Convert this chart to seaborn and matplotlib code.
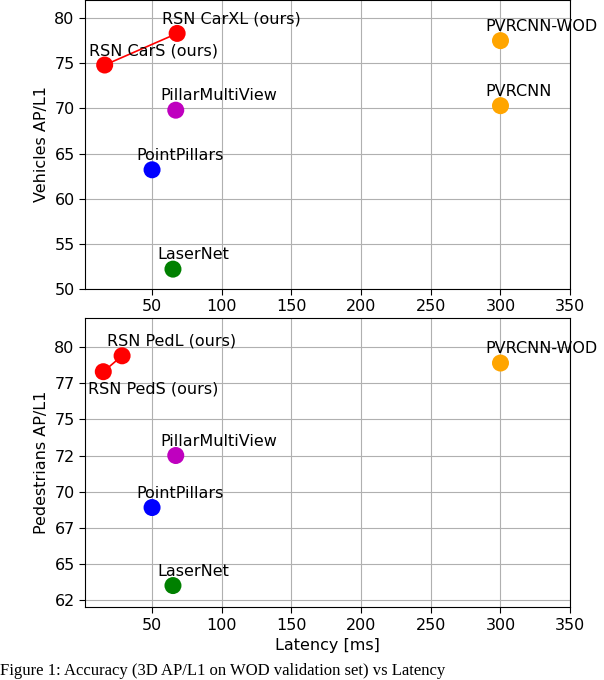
import matplotlib
matplotlib.use("Agg")
import matplotlib.pyplot as plt
import seaborn as sns
import pandas as pd
from matplotlib.ticker import FormatStrFormatter, MultipleLocator

sns.set_style("whitegrid")
plt.rcParams['font.family'] = ['DejaVu Sans']
plt.rcParams['text.color'] = 'black'
plt.rcParams['axes.labelcolor'] = 'black'
plt.rcParams['xtick.color'] = 'black'
plt.rcParams['ytick.color'] = 'black'

veh_names = ["RSN CarS (ours)", "RSN CarXL (ours)", "PillarMultiView", "PointPillars", "LaserNet", "PVRCNN-WOD", "PVRCNN"]
veh_lat = [16, 68, 67, 50, 65, 300, 300]
veh_ap = [74.8, 78.3, 69.8, 63.2, 52.2, 77.5, 70.3]
veh_col = ["red", "red", "m", "blue", "green", "orange", "orange"]

ped_names = ["RSN PedS (ours)", "RSN PedL (ours)", "PillarMultiView", "PointPillars", "LaserNet", "PVRCNN-WOD"]
ped_lat = [15, 28.5, 67, 50, 65, 300]
ped_ap = [78.3, 79.4, 72.5, 68.9, 63.5, 78.9]
ped_col = ["red", "red", "m", "blue", "green", "orange"]

fig = plt.figure(figsize=(6.04, 6.80), dpi=100)
ax1 = fig.add_axes([0.141, 0.575, 0.803, 0.425])
ax2 = fig.add_axes([0.141, 0.107, 0.803, 0.425])

FS = 11.5

def draw(ax, names, lat, ap, col, below):
    df = pd.DataFrame({"lat": lat, "ap": ap, "name": names})
    sns.lineplot(data=df.iloc[:2], x="lat", y="ap", color="red", ax=ax, lw=1.2, sort=False)
    sns.scatterplot(data=df, x="lat", y="ap", hue="name", palette=dict(zip(names, col)),
                    s=150, edgecolor="none", legend=False, ax=ax, zorder=3)
    for i, n in enumerate(names):
        if n in below:
            ax.annotate(n, (lat[i], ap[i]), xytext=(-11, -7), textcoords="offset points",
                        ha="left", va="top", fontsize=FS)
        else:
            ax.annotate(n, (lat[i], ap[i]), xytext=(-11, 5), textcoords="offset points",
                        ha="left", va="bottom", fontsize=FS)
    ax.set_xlim(2, 350)
    ax.xaxis.set_major_locator(MultipleLocator(50))
    ax.tick_params(labelsize=FS, left=True, bottom=True, length=4)
    for s in ax.spines.values():
        s.set_color("black"); s.set_linewidth(0.8)
    ax.grid(True, color="#b0b0b0", lw=0.8)

draw(ax1, veh_names, veh_lat, veh_ap, veh_col, [])
ax1.set_ylim(50, 82)
ax1.yaxis.set_major_locator(MultipleLocator(5))
ax1.set_xlabel("")
ax1.set_ylabel("Vehicles AP/L1", fontsize=FS)

draw(ax2, ped_names, ped_lat, ped_ap, ped_col, ["RSN PedS (ours)"])
ax2.set_ylim(62, 82)
ax2.yaxis.set_major_locator(MultipleLocator(2.5))
ax2.yaxis.set_major_formatter(FormatStrFormatter("%d"))
ax2.set_xlabel("Latency [ms]", fontsize=FS)
ax2.set_ylabel("Pedestrians AP/L1", fontsize=FS)

fig.text(0.0, 0.002, "Figure 1: Accuracy (3D AP/L1 on WOD validation set) vs Latency",
         family="Liberation Serif", fontsize=12, ha="left", va="bottom")

fig.savefig("out.png", dpi=100)
